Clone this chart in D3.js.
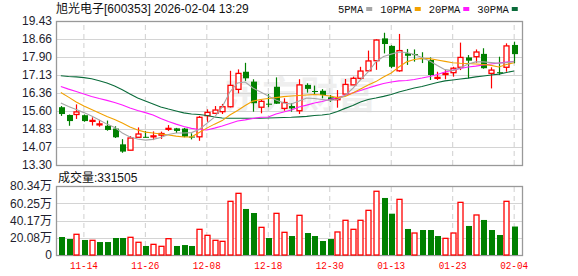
<!DOCTYPE html>
<html>
<head>
<meta charset="utf-8">
<script src="https://cdn.jsdelivr.net/npm/d3@7"></script>
<style>
  body { margin: 0; background: #fff; }
  svg { display: block; }
</style>
</head>
<body>
<div id="chart"></div>
<script>
// trading days shown (60 bars)
const dates = ["11-11","11-12","11-13","11-14","11-17","11-18","11-19","11-20","11-21","11-24",
  "11-25","11-26","11-27","11-28","12-01","12-02","12-03","12-04","12-05","12-08",
  "12-09","12-10","12-11","12-12","12-15","12-16","12-17","12-18","12-19","12-22",
  "12-23","12-24","12-25","12-26","12-29","12-30","12-31","01-05","01-06","01-07",
  "01-08","01-09","01-12","01-13","01-14","01-15","01-16","01-19","01-20","01-21",
  "01-22","01-23","01-26","01-27","01-28","01-29","01-30","02-02","02-03","02-04"];

const open  = [15.76,15.43,15.45,15.42,15.19,15.03,14.97,14.85,14.18,13.93,
  14.48,14.50,14.52,14.57,14.84,14.86,14.85,14.51,14.50,15.40,
  15.50,15.57,15.78,16.52,17.27,16.85,15.76,15.91,16.63,15.71,
  15.81,15.61,16.71,16.45,16.46,16.18,16.08,16.32,16.71,16.99,
  17.31,17.74,18.69,18.37,17.31,18.05,18.02,17.85,17.77,17.01,
  17.15,17.23,17.46,17.88,17.91,18.03,17.20,17.25,17.46,18.41];
const high  = [15.81,15.45,15.88,15.45,15.33,15.22,15.19,14.95,14.40,14.53,
  14.90,14.75,14.73,14.72,15.00,14.88,14.88,14.65,15.39,15.67,
  15.81,15.90,17.31,17.37,17.65,16.95,16.07,16.32,17.03,16.14,
  15.93,16.95,16.78,16.68,16.53,16.28,16.49,16.96,17.06,17.48,
  18.17,18.65,18.93,18.40,18.88,18.24,18.22,18.10,17.88,17.27,
  17.34,17.48,18.51,17.98,18.22,18.27,17.46,17.91,18.48,18.55];
const low   = [15.39,14.97,15.26,15.14,14.98,14.93,14.76,14.45,13.82,13.93,
  14.47,14.47,14.36,14.41,14.75,14.66,14.48,14.39,14.33,15.14,
  15.50,15.47,15.75,16.35,16.88,15.57,15.50,15.76,15.90,15.61,
  15.57,15.47,16.38,16.28,16.14,15.99,15.74,16.30,16.71,16.92,
  17.27,17.35,18.05,17.42,17.27,17.56,17.70,17.64,16.92,16.92,
  16.95,17.06,17.34,16.99,17.65,17.40,16.56,17.13,17.27,17.63];
const close = [15.47,15.17,15.56,15.17,15.20,15.05,14.79,14.48,13.87,14.45,
  14.62,14.48,14.54,14.64,14.86,14.75,14.51,14.49,15.33,15.54,
  15.64,15.78,16.69,17.20,16.99,15.93,16.01,15.88,15.91,15.96,
  15.71,16.71,16.54,16.42,16.28,16.07,16.14,16.73,16.99,17.30,
  17.73,18.62,18.45,17.48,18.17,17.95,18.00,17.82,17.13,17.03,
  17.20,17.42,17.88,17.74,18.11,17.42,17.34,17.22,18.37,18.02];
const prevClose = 15.80; // close of the day before the first bar

// volume in 万
const volume = [20.96,18.63,24.1,17.5,17.1,15.1,15.1,19.8,19.8,20.6,
  14.8,10.5,12.4,10.1,19.0,10.5,11.6,10.5,29.9,22.9,
  17.1,15.9,62.5,71.8,53.6,48.9,32.2,19.8,48.5,26.4,
  22.1,46.2,25.6,22.1,16.3,18.6,26.8,40.4,29.9,40.4,
  52.0,74.2,66.4,48.1,64.8,30.3,25.6,29.1,29.1,22.1,
  19.4,25.6,61.3,33.8,46.6,40.8,29.1,23.3,62.5,33.1505];

// moving averages as drawn
const ma5  = [15.94,15.79,15.66,15.53,15.39,15.22,15.04,14.90,14.66,14.49,
  14.41,14.36,14.39,14.47,14.60,14.66,14.66,14.68,14.81,15.07,
  15.34,15.77,16.41,16.79,16.83,16.58,16.41,16.24,16.07,15.94,
  15.90,16.02,16.15,16.13,16.09,16.05,16.09,16.26,16.56,16.92,
  17.26,17.69,17.92,18.02,18.11,18.09,18.00,17.88,17.73,17.54,
  17.36,17.32,17.43,17.60,17.69,17.69,17.66,17.63,17.66,17.70];
const ma10 = [16.39,16.19,15.98,15.81,15.66,15.51,15.36,15.24,15.09,14.92,
  14.79,14.70,14.66,14.62,14.58,14.53,14.49,14.49,14.68,14.87,
  15.04,15.19,15.43,15.62,15.83,16.02,16.09,16.13,16.17,16.21,
  16.24,16.26,16.28,16.30,16.28,16.24,16.17,16.22,16.37,16.54,
  16.71,16.85,17.05,17.22,17.47,17.69,17.79,17.84,17.83,17.77,
  17.71,17.65,17.63,17.62,17.60,17.58,17.54,17.47,17.58,17.65];
const ma20 = [16.64,16.53,16.43,16.32,16.22,16.13,16.05,15.96,15.85,15.73,
  15.62,15.53,15.43,15.28,15.15,15.04,14.94,14.86,14.81,14.79,
  14.87,14.96,15.07,15.17,15.22,15.28,15.33,15.34,15.47,15.56,
  15.64,15.77,15.85,15.94,16.00,16.09,16.17,16.26,16.37,16.47,
  16.58,16.68,16.77,16.83,16.88,16.90,16.94,17.00,17.07,17.15,
  17.26,17.34,17.41,17.47,17.51,17.56,17.60,17.64,17.68,17.71];
const ma30 = [17.10,17.07,17.05,17.02,16.97,16.89,16.79,16.66,16.50,16.32,
  16.15,16.02,15.90,15.77,15.68,15.60,15.52,15.47,15.45,15.41,
  15.34,15.30,15.29,15.29,15.29,15.29,15.29,15.30,15.31,15.32,
  15.33,15.35,15.37,15.41,15.43,15.47,15.58,15.71,15.83,15.98,
  16.09,16.15,16.22,16.30,16.41,16.49,16.58,16.64,16.73,16.81,
  16.88,16.92,16.96,17.00,17.05,17.09,17.13,17.17,17.24,17.30];

const priceTicks = [13.30, 14.07, 14.83, 15.60, 16.36, 17.13, 17.90, 18.66, 19.43];
const volumeTicks = [0, 20.08, 40.17, 60.25, 80.34];
const dateTicks = ["11-14","11-26","12-08","12-18","12-30","01-13","01-23","02-04"];

const maSeries = [
  {name: "5PMA", values: ma5, color: "#a6a6a6"},
  {name: "10PMA", values: ma10, color: "#f2a100"},
  {name: "20PMA", values: ma20, color: "#ff1aff"},
  {name: "30PMA", values: ma30, color: "#0a6b3a"}
];

const width = 578, height = 276;
const left = 56, right = 522;
const priceTop = 21, priceBottom = 165;
const volTop = 186, volBottom = 255;
const UP = "#ff0000", DOWN = "#008000";
const numFont = "'Liberation Sans', Arial, 'Noto Sans CJK SC', sans-serif";
const monoFont = "'Liberation Mono', 'DejaVu Sans Mono', monospace";

const svg = d3.select("#chart")
  .append("svg")
  .attr("width", width)
  .attr("height", height);

svg.append("rect")
  .attr("width", width)
  .attr("height", height)
  .attr("fill", "#fff");

const x = d3.scaleBand()
  .domain(d3.range(dates.length))
  .range([57, 518]);
const cx = i => x(i) + x.bandwidth() / 2;

const y = d3.scaleLinear()
  .domain([priceTicks[0], priceTicks[priceTicks.length - 1]])
  .range([priceBottom, priceTop]);

const yv = d3.scaleLinear()
  .domain([0, volumeTicks[volumeTicks.length - 1]])
  .range([volBottom, volTop]);

// faint watermark
svg.append("text")
  .attr("x", 300)
  .attr("y", 108)
  .attr("text-anchor", "middle")
  .attr("font-family", "'Noto Sans CJK SC', sans-serif")
  .attr("font-weight", "bold")
  .attr("font-size", 38)
  .attr("fill", "#efefef")
  .text("东方财富");

// horizontal grid + y labels for price
const yAxis = svg.append("g")
  .attr("transform", `translate(${left},0)`)
  .call(d3.axisLeft(y)
    .tickValues(priceTicks)
    .tickSize(-(right - left))
    .tickPadding(4)
    .tickFormat(d3.format(".2f")));
yAxis.select(".domain").remove();
yAxis.selectAll("line").attr("stroke", "#d4d4d4").attr("shape-rendering", "crispEdges");
yAxis.selectAll("text")
  .attr("font-family", numFont)
  .attr("font-size", 12)
  .attr("fill", "#1e1e2e");

// horizontal grid + y labels for volume
const vAxis = svg.append("g")
  .attr("transform", `translate(${left},0)`)
  .call(d3.axisLeft(yv)
    .tickValues(volumeTicks)
    .tickSize(-(right - left))
    .tickPadding(4)
    .tickFormat(d => d === 0 ? "0" : d3.format(".2f")(d) + "万"));
vAxis.select(".domain").remove();
vAxis.selectAll("line").attr("stroke", "#d4d4d4").attr("shape-rendering", "crispEdges");
vAxis.selectAll("text")
  .attr("font-family", numFont)
  .attr("font-size", 12)
  .attr("fill", "#1e1e2e");

// vertical dashed grid lines on both panels, date labels below volume
const tickIdx = dateTicks.map(d => dates.indexOf(d));
const xGridPrice = svg.append("g")
  .attr("transform", `translate(0,${priceBottom})`)
  .call(d3.axisBottom(x).tickValues(tickIdx).tickSize(-(priceBottom - priceTop)).tickFormat(""));
xGridPrice.select(".domain").remove();

const xAxis = svg.append("g")
  .attr("transform", `translate(0,${volBottom})`)
  .call(d3.axisBottom(x)
    .tickValues(tickIdx)
    .tickSize(-(volBottom - volTop))
    .tickPadding(6)
    .tickFormat(i => dates[i]));
xAxis.select(".domain").remove();
svg.selectAll(".tick line")
  .filter(function() { return this.parentNode.parentNode !== yAxis.node() && this.parentNode.parentNode !== vAxis.node(); })
  .attr("stroke", "#cfcfcf")
  .attr("stroke-dasharray", "5,4");
xAxis.selectAll("text")
  .attr("font-family", monoFont)
  .attr("font-size", 11)
  .attr("fill", "#ff0000")
  .attr("textLength", 28)
  .attr("lengthAdjust", "spacingAndGlyphs");

// panel borders
[[priceTop, priceBottom], [volTop, volBottom]].forEach(([t, b]) => {
  svg.append("rect")
    .attr("x", left + 0.5)
    .attr("y", t + 0.5)
    .attr("width", right - left)
    .attr("height", b - t)
    .attr("fill", "none")
    .attr("stroke", "#999")
    .attr("stroke-width", 1.3);
});

// candles
const candles = svg.append("g").selectAll("g")
  .data(d3.range(dates.length))
  .enter()
  .append("g");

candles.append("line")
  .attr("x1", i => Math.round(cx(i)) + 0.5)
  .attr("x2", i => Math.round(cx(i)) + 0.5)
  .attr("y1", i => y(high[i]))
  .attr("y2", i => y(low[i]))
  .attr("stroke", i => close[i] >= open[i] ? UP : DOWN)
  .attr("stroke-width", 1.2);

candles.append("rect")
  .attr("x", i => close[i] >= open[i] ? Math.round(cx(i)) - 2 : Math.round(cx(i)) - 2)
  .attr("y", i => y(Math.max(open[i], close[i])))
  .attr("width", i => close[i] >= open[i] ? 5 : 6)
  .attr("height", i => Math.max(1, Math.abs(y(open[i]) - y(close[i]))))
  .attr("fill", i => close[i] >= open[i] ? "#fff" : DOWN)
  .attr("stroke", i => close[i] >= open[i] ? UP : "none")
  .attr("stroke-width", 1.3);

// moving averages
const line = d3.line()
  .x((d, i) => cx(i))
  .y(d => y(d));

svg.append("g").selectAll("path")
  .data(maSeries.slice().reverse())
  .enter()
  .append("path")
  .attr("d", d => line(d.values))
  .attr("fill", "none")
  .attr("stroke", d => d.color)
  .attr("stroke-width", 1.1);

// volume bars, coloured by change from previous close
const isUpDay = i => close[i] >= (i === 0 ? prevClose : close[i - 1]);
svg.append("g").selectAll("rect")
  .data(d3.range(volume.length))
  .enter()
  .append("rect")
  .attr("x", i => Math.round(cx(i)) - 2)
  .attr("y", i => yv(volume[i]))
  .attr("width", i => isUpDay(i) ? 5 : 6)
  .attr("height", i => yv(0) - yv(volume[i]))
  .attr("fill", i => isUpDay(i) ? "#fff" : DOWN)
  .attr("stroke", i => isUpDay(i) ? UP : "none")
  .attr("stroke-width", 1.3);

// title
svg.append("text")
  .attr("x", 56)
  .attr("y", 13)
  .attr("font-family", numFont)
  .attr("font-size", 12)
  .attr("fill", "#111")
  .text("旭光电子[600353] 2026-02-04 13:29");

// volume caption
svg.append("text")
  .attr("x", 58)
  .attr("y", 182)
  .attr("font-family", numFont)
  .attr("font-size", 12)
  .attr("fill", "#111")
  .text("成交量:" + Math.round(volume[volume.length - 1] * 10000));

// legend
let lx = 338;
maSeries.forEach(s => {
  const t = svg.append("text")
    .attr("x", lx)
    .attr("y", 13)
    .attr("font-family", monoFont)
    .attr("font-size", 10.5)
    .attr("fill", "#111")
    .text(s.name);
  const w = t.node().getComputedTextLength();
  svg.append("rect")
    .attr("x", lx + w + 3)
    .attr("y", 7)
    .attr("width", 6)
    .attr("height", 4)
    .attr("fill", s.color);
  lx += w + 3 + 6 + 8;
});
</script>
</body>
</html>
